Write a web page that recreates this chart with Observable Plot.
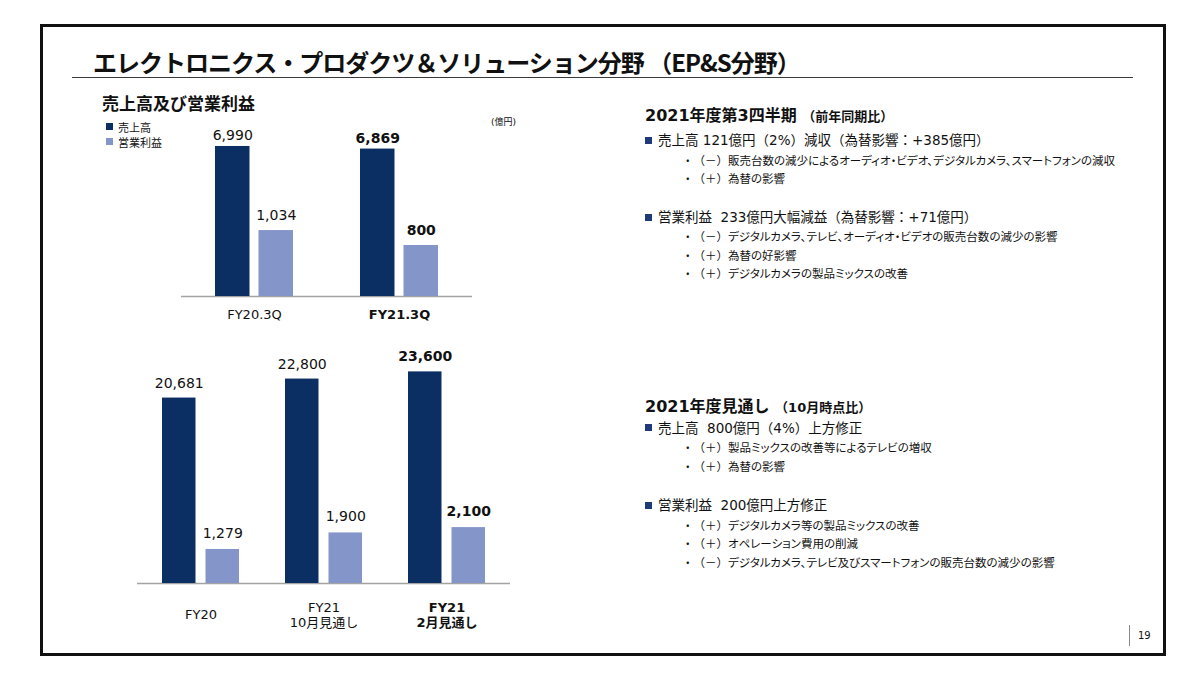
<!DOCTYPE html>
<html lang="ja">
<head>
<meta charset="utf-8">
<script src="https://cdn.jsdelivr.net/npm/d3@7"></script>
<script src="https://cdn.jsdelivr.net/npm/@observablehq/plot@0.6"></script>
<style>
  html, body { margin: 0; padding: 0; background: #fff; }
  #page { position: relative; width: 1200px; height: 675px; overflow: hidden; background: #fff;
          font-family: "DejaVu Sans", "Noto Sans CJK JP", sans-serif; color: #111;
          text-spacing-trim: space-all; }
  .abs { position: absolute; white-space: pre; }
  .chart { position: absolute; left: 0; top: 0; }
  .palt { font-feature-settings: "palt" 1; }
</style>
</head>
<body>
<div id="page"></div>
<script>
// ---------- data ----------
const topCategories = ["FY20.3Q", "FY21.3Q"];
const topSales = [6990, 6869];
const topProfit = [1034, 800];
const topHighlight = [false, true];

const bottomCategories = ["FY20", "FY21\n10月見通し", "FY21\n2月見通し"];
const bottomSales = [20681, 22800, 23600];
const bottomProfit = [1279, 1900, 2100];
const bottomHighlight = [false, false, true];

const seriesNames = ["売上高", "営業利益"];
const unitLabel = "(億円)";

const titleText = "エレクトロニクス・プロダクツ＆ソリューション分野 （EP&S分野）";
const chartTitle = "売上高及び営業利益";

const block1Heading = ["2021年度第3四半期 ", "（前年同期比）"];
const block1Items = [
  ["売上高 121億円（2%）減収（為替影響：+385億円）",
    ["・（－）販売台数の減少によるオーディオ・ビデオ、デジタルカメラ、スマートフォンの減収",
     "・（＋）為替の影響"]],
  ["営業利益  233億円大幅減益（為替影響：+71億円）",
    ["・（－）デジタルカメラ、テレビ、オーディオ・ビデオの販売台数の減少の影響",
     "・（＋）為替の好影響",
     "・（＋）デジタルカメラの製品ミックスの改善"]]
];
const block2Heading = ["2021年度見通し ", "（10月時点比）"];
const block2Items = [
  ["売上高  800億円（4%）上方修正",
    ["・（＋）製品ミックスの改善等によるテレビの増収",
     "・（＋）為替の影響"]],
  ["営業利益  200億円上方修正",
    ["・（＋）デジタルカメラ等の製品ミックスの改善",
     "・（＋）オペレーション費用の削減",
     "・（－）デジタルカメラ、テレビ及びスマートフォンの販売台数の減少の影響"]]
];
const pageNumber = "19";

// ---------- styles ----------
const DARK = "#0c2f63";
const LIGHT = "#8496c9";
const FONT = '"DejaVu Sans", "Noto Sans CJK JP", sans-serif';
const CJK = '"Noto Sans CJK JP", sans-serif';
const fmt = d3.format(",");
const page = document.getElementById("page");

function addDiv(x, yCenter, text, opts = {}) {
  const el = document.createElement("div");
  el.className = "abs";
  const lh = opts.lh || 20;
  el.style.left = x + "px";
  el.style.top = (yCenter - lh / 2) + "px";
  el.style.lineHeight = lh + "px";
  el.style.fontSize = (opts.size || 12) + "px";
  if (opts.weight) el.style.fontWeight = opts.weight;
  if (opts.color) el.style.color = opts.color;
  if (opts.ls != null) el.style.letterSpacing = opts.ls + "px";
  if (opts.family) el.style.fontFamily = opts.family;
  if (opts.html) el.innerHTML = text; else el.textContent = text;
  page.appendChild(el);
  return el;
}
function addBox(x, y, w, h, style) {
  const el = document.createElement("div");
  el.style.position = "absolute";
  el.style.left = x + "px"; el.style.top = y + "px";
  el.style.width = w + "px"; el.style.height = h + "px";
  Object.assign(el.style, style);
  page.appendChild(el);
  return el;
}

// frame + title
addBox(40, 24, 1126, 632, {border: "3px solid #111", boxSizing: "border-box"});
addDiv(93, 62, titleText, {size: 24, weight: "bold", lh: 30, ls: -1, family: CJK});
addBox(72, 76.5, 1061, 1.6, {background: "#3a3a3a"});
addDiv(102, 102.5, chartTitle, {size: 17, weight: "bold", lh: 22, family: CJK});

// legend
addBox(106, 123, 7, 7, {background: DARK});
addBox(106, 138, 7, 7, {background: LIGHT});
addDiv(118, 126.5, seriesNames[0], {size: 11, lh: 14, family: CJK});
addDiv(118, 141.5, seriesNames[1], {size: 11, lh: 14, family: CJK});
addDiv(491, 121.5, unitLabel, {size: 9, lh: 12});

// ---------- charts ----------
function makeLayer({cats, values, highlight, layer, width, height, ml, mr, mt, mb, pi, po, yMax, labelDy, tickDy, withAxis}) {
  const data = cats.map((c, i) => ({cat: c, v: values[i], hi: highlight[i]}));
  const isDark = layer === "dark";
  const barOpts = isDark ? {insetRight: 43.5} : {insetLeft: 43.5};
  const dx = isDark ? -21.75 : 21.75;
  const marks = [];
  if (withAxis) marks.push(Plot.ruleY([0], {stroke: "#a3a3a3", strokeWidth: 1.3}));
  marks.push(Plot.barY(data, {x: "cat", y: "v", fill: isDark ? DARK : LIGHT, ...barOpts}));
  marks.push(Plot.text(data.filter(d => !d.hi), {x: "cat", y: "v", text: d => fmt(d.v), dx, dy: labelDy,
    fontSize: 14, fontFamily: FONT, fill: "#111"}));
  marks.push(Plot.text(data.filter(d => d.hi), {x: "cat", y: "v", text: d => fmt(d.v), dx, dy: labelDy,
    fontSize: 14, fontWeight: "bold", fontFamily: FONT, fill: "#111"}));
  if (withAxis) {
    marks.push(Plot.text(data.filter(d => !d.hi), {x: "cat", text: "cat", frameAnchor: "bottom", dy: tickDy,
      lineAnchor: "middle", lineHeight: 1.15, fontSize: 13, fontFamily: FONT, fill: "#111"}));
    marks.push(Plot.text(data.filter(d => d.hi), {x: "cat", text: "cat", frameAnchor: "bottom", dy: tickDy,
      lineAnchor: "middle", lineHeight: 1.15, fontSize: 13, fontWeight: "bold", fontFamily: FONT, fill: "#111"}));
  }
  const svg = Plot.plot({
    width, height, marginLeft: ml, marginRight: mr, marginTop: mt, marginBottom: mb,
    style: {background: "transparent", overflow: "visible", maxWidth: "none"},
    x: {type: "band", domain: cats, paddingInner: pi, paddingOuter: po, align: 0.5, axis: null},
    y: {domain: [0, yMax], axis: null},
    marks
  });
  const wrap = document.createElement("div");
  wrap.className = "chart";
  wrap.appendChild(svg);
  page.appendChild(wrap);
}

// top chart (FY20.3Q / FY21.3Q)
const topGeom = {width: 520, height: 330, ml: 181, mr: 48, mt: 120, mb: 34, pi: 0.465, po: 0.23, tickDy: 18};
makeLayer({...topGeom, cats: topCategories, values: topSales, highlight: topHighlight, layer: "dark",
  yMax: 8200, labelDy: -11, withAxis: true});
makeLayer({...topGeom, cats: topCategories, values: topProfit, highlight: topHighlight, layer: "light",
  yMax: 2760, labelDy: -15, withAxis: false});

// bottom chart (full year)
const botGeom = {width: 560, height: 640, ml: 137, mr: 50, mt: 340, mb: 57, pi: 0.37, po: 0.19, tickDy: 31};
makeLayer({...botGeom, cats: bottomCategories, values: bottomSales, highlight: bottomHighlight, layer: "dark",
  yMax: 27100, labelDy: -15, withAxis: true});
makeLayer({...botGeom, cats: bottomCategories, values: bottomProfit, highlight: bottomHighlight, layer: "light",
  yMax: 9130, labelDy: -16, withAxis: false});

// ---------- right-hand text ----------
function esc(s) { return s.replace(/&/g, "&amp;").replace(/</g, "&lt;"); }
function block(heading, items, ys) {
  addDiv(645, ys.heading, esc(heading[0]) + '<span style="font-size:13px">' + esc(heading[1]) + "</span>",
    {size: 16, weight: "bold", lh: 22, html: true});
  items.forEach((it, k) => {
    const y = ys.items[k];
    addBox(645, y - 3.5, 7, 7, {background: "#1f3a7a"});
    addDiv(658, y, it[0], {size: 13.5, lh: 18});
    it[1].forEach((s, j) => addDiv(682, ys.subs[k][j],
      esc(s.slice(0, 4)) + '<span class="palt">' + esc(s.slice(4)) + "</span>",
      {size: 11.5, lh: 16, family: CJK, html: true}));
  });
}
block(block1Heading, block1Items, {heading: 116, items: [140, 217], subs: [[159.5, 177.5], [236, 254.5, 272.5]]});
block(block2Heading, block2Items, {heading: 406.5, items: [427.5, 505], subs: [[447, 465.5], [524.5, 543, 561.5]]});

// page number
addBox(1128.5, 625, 1.2, 21, {background: "#8a8a8a"});
addDiv(1138, 636, pageNumber, {size: 10, lh: 12});
</script>
</body>
</html>
